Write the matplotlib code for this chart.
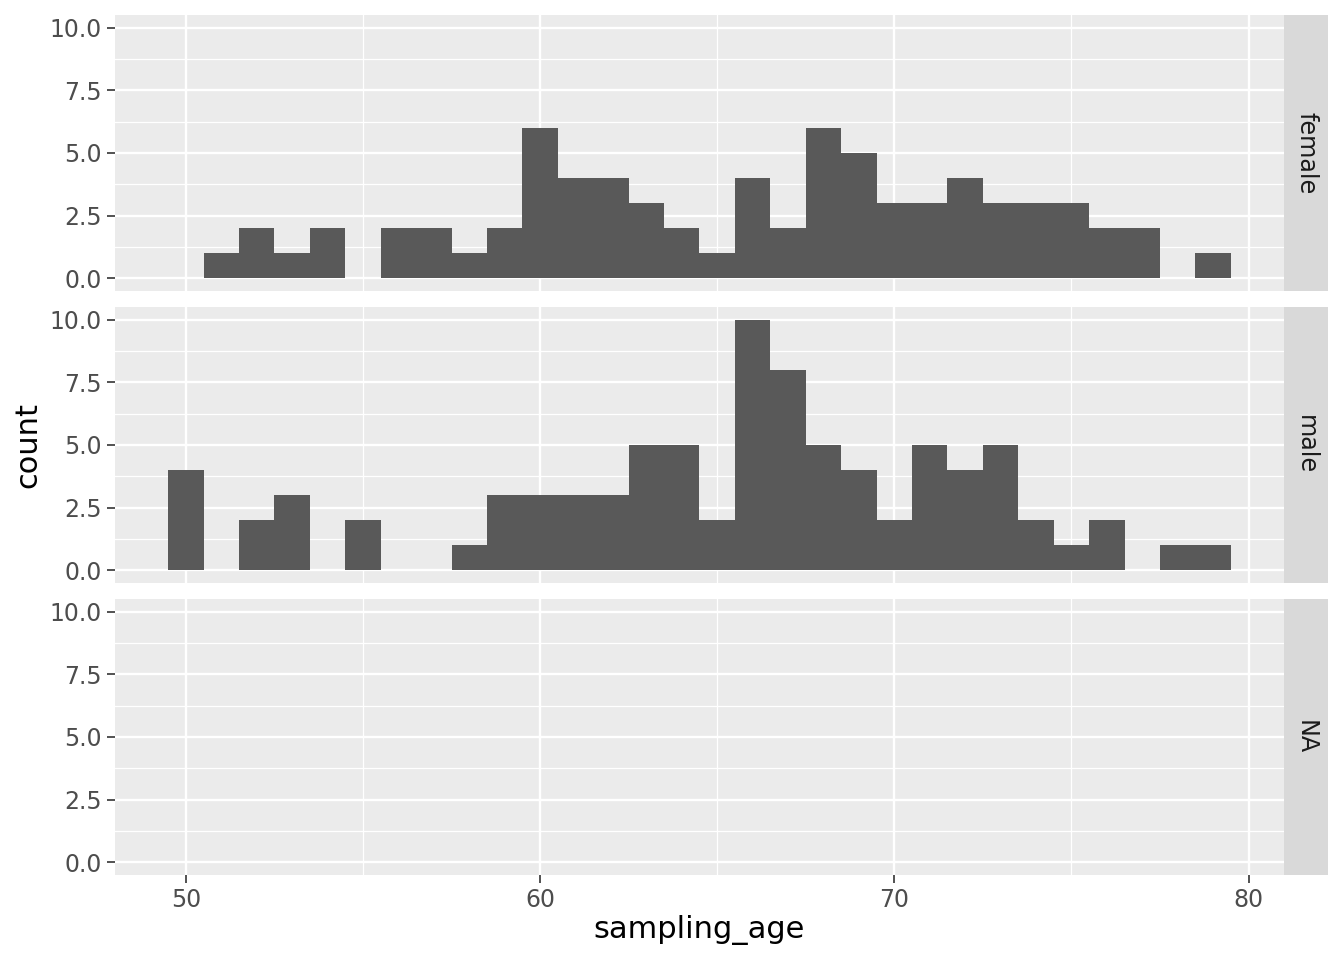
import numpy as np
import matplotlib.pyplot as plt

# ── Data (bin centres, width 1) ─────────────────────────────────
ages = list(range(50, 80))

female_counts = [0, 1, 2, 1, 2, 0, 2, 2, 1, 2,
                 6, 4, 4, 3, 2, 1, 4, 2, 6, 5,
                 3, 3, 4, 3, 3, 3, 2, 2, 0, 1]

male_counts = [4, 0, 2, 3, 0, 2, 0, 0, 1, 3,
               3, 3, 3, 5, 5, 2, 10, 8, 5, 4,
               2, 5, 4, 5, 2, 1, 2, 0, 1, 1]

na_counts = [0] * len(ages)

facets = ["female", "male", "NA"]
facet_counts = [female_counts, male_counts, na_counts]

x_ticks = [50, 60, 70, 80]
x_minor = [55, 65, 75]
y_ticks = [0.0, 2.5, 5.0, 7.5, 10.0]
y_minor = [1.25, 3.75, 6.25, 8.75]

# ── Style ───────────────────────────────────────────────────────
PANEL_BG = "#EBEBEB"
STRIP_BG = "#D9D9D9"
BAR_FILL = "#595959"
TICK_TXT = "#4D4D4D"
TICK_CLR = "#333333"

fig = plt.figure(figsize=(6.72, 4.8), dpi=200)

W, H = 1344, 960
left, right = 115, 1284
strip_w = 44
panel_tops = [15, 307, 599]
panel_h = 276

for i, (name, counts) in enumerate(zip(facets, facet_counts)):
    top = panel_tops[i]
    ax = fig.add_axes([left / W, 1 - (top + panel_h) / H,
                       (right - left) / W, panel_h / H])
    ax.set_facecolor(PANEL_BG)
    for s in ax.spines.values():
        s.set_visible(False)

    ax.set_xlim(48.0, 81.0)
    ax.set_ylim(-0.5, 10.5)

    ax.set_xticks(x_ticks)
    ax.set_xticks(x_minor, minor=True)
    ax.set_yticks(y_ticks)
    ax.set_yticks(y_minor, minor=True)
    ax.set_yticklabels([f"{v:.1f}" for v in y_ticks])

    ax.grid(which="major", color="white", linewidth=0.85)
    ax.grid(which="minor", color="white", linewidth=0.45)
    ax.set_axisbelow(True)

    nz = [(a, c) for a, c in zip(ages, counts) if c > 0]
    if nz:
        xs, hs = zip(*nz)
        ax.bar(xs, hs, width=1.0, color=BAR_FILL, linewidth=0, align="center")

    ax.tick_params(which="major", length=2.75, width=0.6, color=TICK_CLR,
                   labelsize=8.5, labelcolor=TICK_TXT, pad=2)
    ax.tick_params(which="minor", length=0)
    if i < 2:
        ax.tick_params(axis="x", which="major", length=0, labelbottom=False)

    # strip
    sax = fig.add_axes([right / W, 1 - (top + panel_h) / H,
                        strip_w / W, panel_h / H])
    sax.set_facecolor(STRIP_BG)
    sax.set_xticks([])
    sax.set_yticks([])
    for s in sax.spines.values():
        s.set_visible(False)
    sax.text(0.5, 0.5, name, rotation=-90, ha="center", va="center",
             fontsize=8.6, color="#1A1A1A", transform=sax.transAxes)

fig.text((left + right) / 2 / W, 1 - 930 / H, "sampling_age",
         ha="center", va="center", fontsize=11, color="black")
fig.text(28 / W, 1 - 445 / H, "count", rotation=90,
         ha="center", va="center", fontsize=11, color="black")

fig.savefig("out.png", dpi=200, facecolor="white")
